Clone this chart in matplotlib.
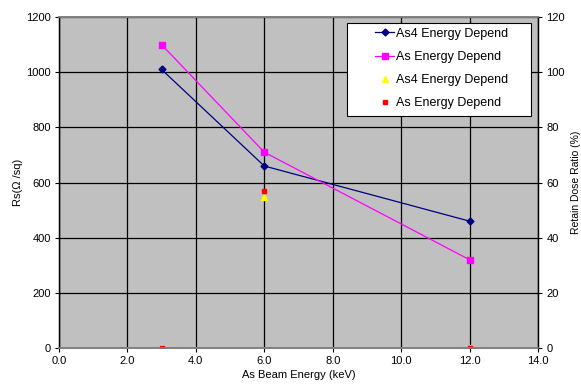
import matplotlib.pyplot as plt
from matplotlib.patches import Rectangle
from matplotlib.ticker import FormatStrFormatter

plt.rcParams['font.family'] = ['Liberation Sans', 'DejaVu Sans']
plt.rcParams['font.size'] = 8

# Sheet resistance vs beam energy
energy = [3.0, 6.0, 12.0]
rs_as4 = [1010, 660, 460]
rs_as = [1100, 710, 320]

# Retained dose ratio (%)
dose_as4 = [0, 54.7, 0]
dose_as = [0, 57.0, 0]

fig = plt.figure(figsize=(5.81, 3.87), dpi=100)
ax = fig.add_axes([0.1015, 0.1008, 0.8245, 0.855])
ax.set_facecolor('#C0C0C0')

l1, = ax.plot(energy, rs_as4, color='#000080', marker='D', markersize=3.5, linewidth=0.9,
              label='As4 Energy Depend')
l2, = ax.plot(energy, rs_as, color='#FF00FF', marker='s', markersize=5, linewidth=0.9,
              label='As Energy Depend')

ax.set_xlim(0, 14)
ax.set_ylim(0, 1200)
ax.set_xticks(range(0, 15, 2))
ax.set_yticks(range(0, 1201, 200))
ax.xaxis.set_major_formatter(FormatStrFormatter('%.1f'))
ax.grid(True, color='black', linewidth=0.9)
ax.set_axisbelow(True)
ax.set_xlabel('As Beam Energy (keV)', labelpad=3)
ax.set_ylabel('Rs(Ω /sq)', labelpad=2)

ax2 = ax.twinx()
l3, = ax2.plot(energy, dose_as4, linestyle='none', marker='^', markersize=4,
               color='#FFFF00', label='As4 Energy Depend')
l4, = ax2.plot(energy, dose_as, linestyle='none', marker='s', markersize=2.5,
               color='#FF0000', label='As Energy Depend')
ax2.set_ylim(0, 120)
ax2.set_yticks(range(0, 121, 20))
ax2.set_ylabel('Retain Dose Ratio (%)', labelpad=4, fontsize=7.5)

for a in (ax, ax2):
    for s in a.spines.values():
        s.set_color('#808080')
        s.set_linewidth(1.2)
    a.spines['left'].set_color('black')
    a.spines['right'].set_color('black')
    a.spines['left'].set_linewidth(0.9)
    a.spines['right'].set_linewidth(0.9)
    a.tick_params(direction='out', length=3, width=0.8, pad=3)

# legend box drawn separately so the entries can sit right of centre
ax2.add_patch(Rectangle((0.601, 0.701), 0.384, 0.281, transform=ax2.transAxes,
                        facecolor='white', edgecolor='black', linewidth=0.8,
                        zorder=4, clip_on=False))
ax2.legend(handles=[l1, l2, l3, l4], loc='upper left', bbox_to_anchor=(0.66, 0.968),
           frameon=False, fontsize=9, borderpad=0, borderaxespad=0,
           labelspacing=0.9, handlelength=1.5, handletextpad=0.2)

fig.savefig('out.png', dpi=100)
